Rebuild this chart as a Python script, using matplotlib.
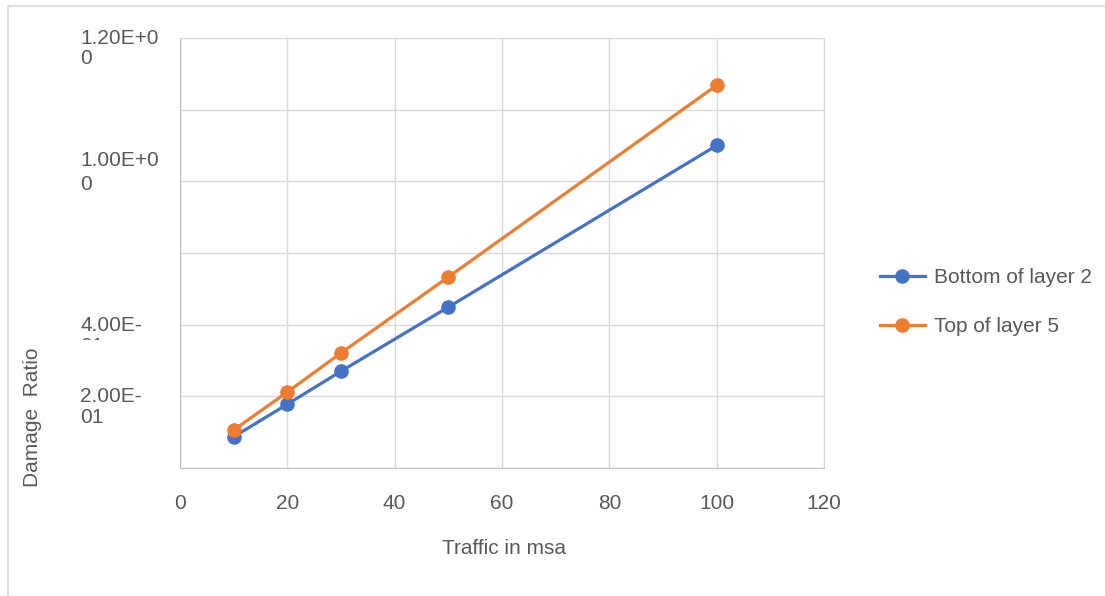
import matplotlib.pyplot as plt
from matplotlib.patches import Rectangle
from matplotlib.lines import Line2D

plt.rcParams['font.family'] = ['Liberation Sans', 'DejaVu Sans']

# Data
traffic = [10, 20, 30, 50, 100]
bottom_layer2 = [0.087, 0.178, 0.270, 0.449, 0.900]
top_layer5 = [0.106, 0.212, 0.321, 0.533, 1.068]

x_ticks = [0, 20, 40, 60, 80, 100, 120]
y_grid = [0, 0.2, 0.4, 0.6, 0.8, 1.0, 1.2]
# y-labels as they appear (wrapped Excel labels, not on every gridline)
y_label_pos = [1.205, 0.865, 0.402, 0.204]
y_label_txt = ["1.20E+0\n0", "1.00E+0\n0", "4.00E-\n01", "2.00E-\n01"]
y_label_ls = [1.1, 1.35, 1.1, 1.1]

colors = ['#4472C4', '#ED7D31']
txt_col = '#595959'
FS = 15

W, H = 1105, 596
fig = plt.figure(figsize=(W / 100, H / 100), dpi=100)

# outer chart border
fig.patches.append(Rectangle((8 / W, -0.05), 1.1, 1 - 6 / H + 0.05, transform=fig.transFigure,
                             fill=False, edgecolor='#d9d9d9', lw=1.2))

ax = fig.add_axes([180 / W, 1 - 468 / H, (824 - 180) / W, (468 - 38) / H])
ax.plot(traffic, bottom_layer2, color=colors[0], lw=2.3, marker='o', ms=9.5, label='Bottom of layer 2')
ax.plot(traffic, top_layer5, color=colors[1], lw=2.3, marker='o', ms=9.5, label='Top of layer 5')

ax.set_xlim(0, 120)
ax.set_ylim(0, 1.2)
ax.set_xticks(x_ticks)
ax.set_yticks(y_grid)
ax.set_yticklabels([])
ax.grid(True, color='#d9d9d9', lw=1)
ax.set_axisbelow(True)
ax.tick_params(length=0)
ax.tick_params(axis='x', pad=19, labelsize=FS, labelcolor=txt_col)
for s in ax.spines.values():
    s.set_color('#d9d9d9')
ax.spines['left'].set_color('#bfbfbf')
ax.spines['bottom'].set_color('#bfbfbf')

# y tick labels
trans = ax.get_yaxis_transform()
lx = (80 - 180) / (824 - 180)
for yv, t, ls in zip(y_label_pos, y_label_txt, y_label_ls):
    lab = ax.text(lx, yv + 0.021, t, transform=trans, ha='left', va='top',
                  fontsize=FS, color=txt_col, linespacing=ls)
    if t.startswith("4.00"):
        # second line is cut off in the original
        lab.set_clip_on(True)
        lab.set_clip_box(None)
        lab.set_clip_path(Rectangle((0, 1 - 340 / H), 1, 340 / H, transform=fig.transFigure))

fig.text(33 / W, 1 - 487 / H, 'Damage  Ratio', rotation=90, ha='center', va='bottom',
         fontsize=FS, color=txt_col)
fig.text(504 / W, 1 - 549 / H, 'Traffic in msa', ha='center', va='center',
         fontsize=FS, color=txt_col)

handles = [Line2D([], [], color=c, lw=2.3, marker='o', ms=9.5) for c in colors]
ax.legend(handles, ['Bottom of layer 2', 'Top of layer 5'], loc='upper left',
          bbox_to_anchor=(880 / W, 1 - 268 / H), bbox_transform=fig.transFigure,
          frameon=False, borderpad=0, borderaxespad=0, handlelength=2.15,
          handletextpad=0.43, labelspacing=1.45, fontsize=FS, labelcolor=txt_col)

fig.savefig('out.png', dpi=100)
